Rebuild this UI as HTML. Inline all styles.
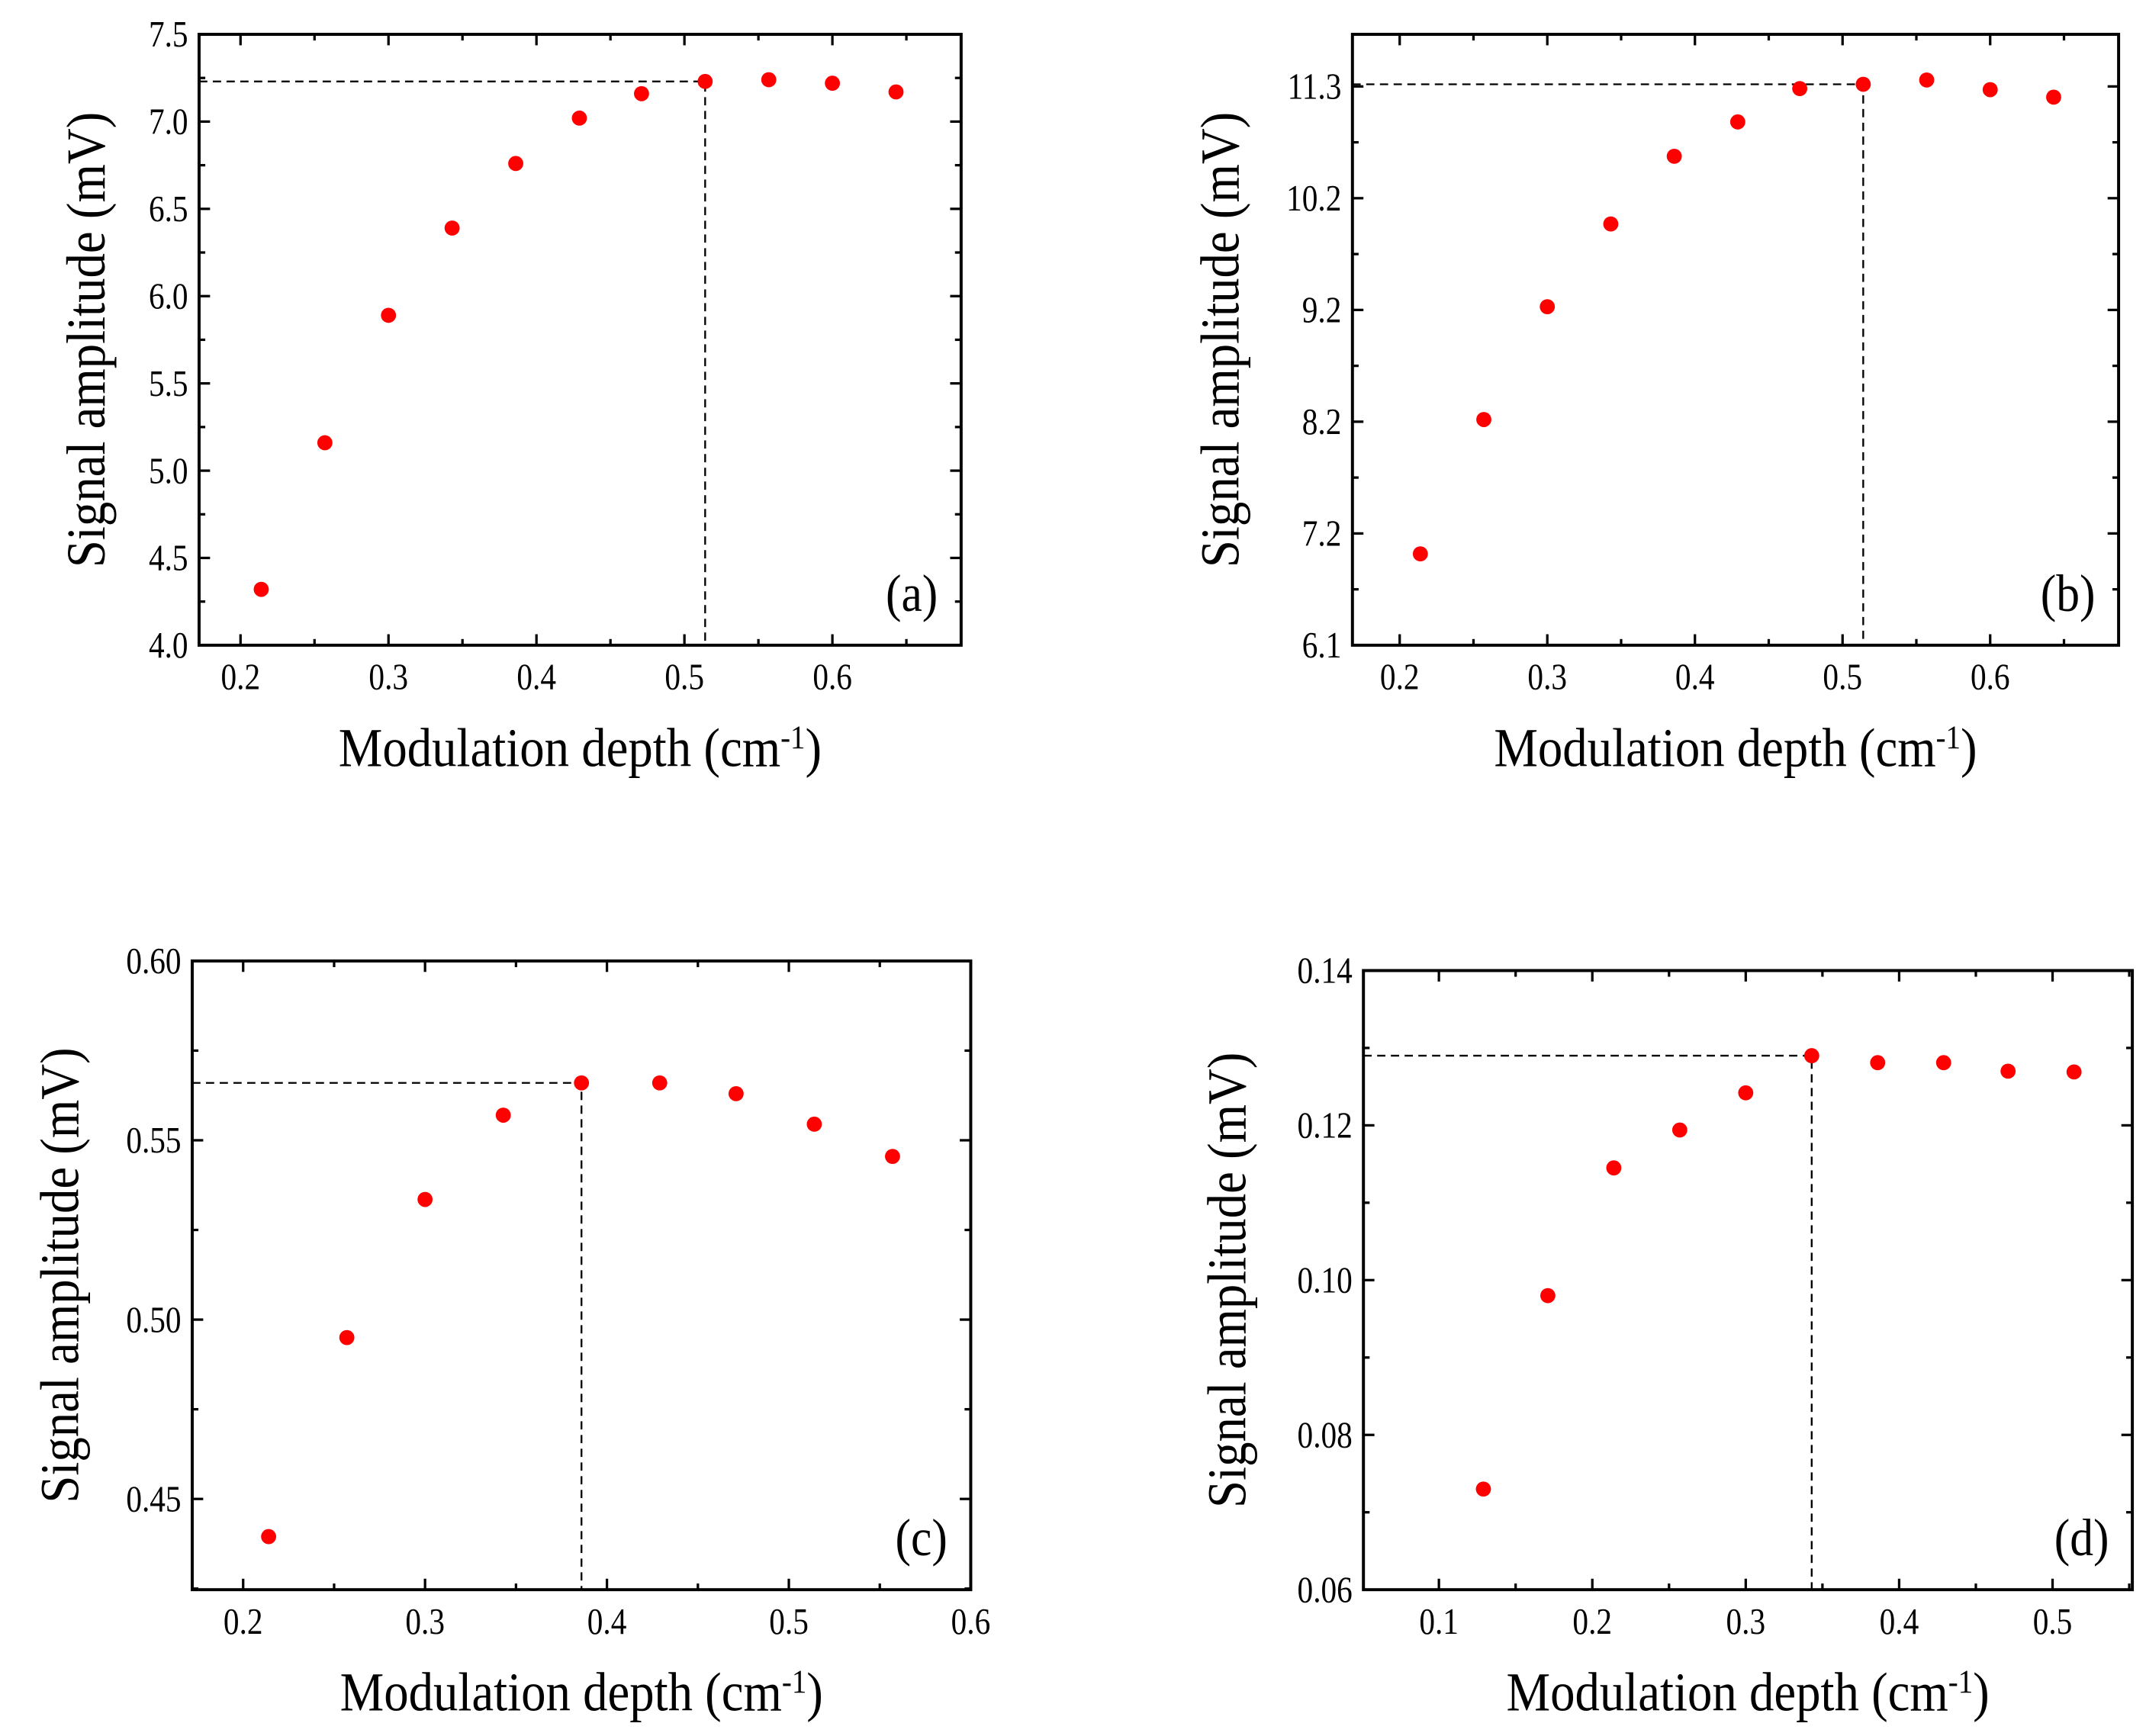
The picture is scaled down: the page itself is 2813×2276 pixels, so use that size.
<!DOCTYPE html>
<html><head><meta charset="utf-8"><style>
html,body{margin:0;padding:0;background:#fff}
svg{display:block}
text{font-family:"Liberation Serif",serif;fill:#000}
</style></head><body>
<svg id="fig" xmlns="http://www.w3.org/2000/svg" width="2813" height="2276" viewBox="0 0 2813 2276">
<rect width="2813" height="2276" fill="#fff"/>
<g id="root" transform="scale(1.7998)"></g>
</svg>
<script>
// Panel (a)
const xA = [0.214,0.257,0.300,0.343,0.386,0.429,0.471,0.514,0.557,0.600,0.643];
const yA = [4.32,5.16,5.89,6.39,6.76,7.02,7.16,7.23,7.24,7.22,7.17];
const yTicksA = [4.0,4.5,5.0,5.5,6.0,6.5,7.0,7.5];
const yTickLabelsA = ["4.0","4.5","5.0","5.5","6.0","6.5","7.0","7.5"];
// Panel (b)
const xB = [0.214,0.257,0.300,0.343,0.386,0.429,0.471,0.514,0.557,0.600,0.643];
const yB = [6.95,8.2,9.25,10.02,10.65,10.97,11.28,11.32,11.36,11.27,11.2];
const yTicksB = [6.1,7.14,8.18,9.22,10.26,11.3];
const yTickLabelsB = ["6.1","7.2","8.2","9.2","10.2","11.3"];
// Panel (c)
const xC = [0.214,0.257,0.300,0.343,0.386,0.429,0.471,0.514,0.557];
const yC = [0.4395,0.495,0.5335,0.557,0.566,0.566,0.563,0.5545,0.5455];
const yTicksC = [0.45,0.50,0.55,0.60];
const yTickLabelsC = ["0.45","0.50","0.55","0.60"];
// Panel (d)
const xD = [0.129,0.171,0.214,0.257,0.300,0.343,0.386,0.429,0.471,0.514];
const yD = [0.073,0.098,0.1145,0.1194,0.1242,0.129,0.1281,0.1281,0.127,0.1269];
const yTicksD = [0.06,0.08,0.10,0.12,0.14];
const yTickLabelsD = ["0.06","0.08","0.10","0.12","0.14"];
const xTicksABC = [0.2,0.3,0.4,0.5,0.6];
const xTickLabelsABC = ["0.2","0.3","0.4","0.5","0.6"];
const xTicksD = [0.1,0.2,0.3,0.4,0.5];
const xTickLabelsD = ["0.1","0.2","0.3","0.4","0.5"];
const peaks = {a:[0.514,7.23], b:[0.514,11.32], c:[0.386,0.566], d:[0.343,0.129]};

const NS="http://www.w3.org/2000/svg";
const root=document.getElementById('root');
function mk(tag,attrs,parent){const e=document.createElementNS(NS,tag);for(const k in attrs)e.setAttribute(k,attrs[k]);parent.appendChild(e);return e;}
function txt(parent,x,y,s,size,anchor,sx,rot){
  const t=mk('text',{x:0,y:0,'text-anchor':anchor,'font-size':size,transform:`translate(${x},${y})${rot?' rotate(-90)':''} scale(${sx},1)`},parent);
  t.innerHTML=s;
  return t;
}

function panel(id,box,xr,yr,xs,ys,xt,xtl,yt,ytl,peak,letter,ytOff){
  const [L,T,R,B]=box;
  const g=mk('g',{},root);
  
  
  const X=v=>L+(v-xr[0])/(xr[1]-xr[0])*(R-L);
  const Y=v=>B-(v-yr[0])/(yr[1]-yr[0])*(B-T);
  const dl=mk('path',{d:`M${L},${Y(peak[1])}H${X(peak[0])}V${B}`,fill:'none',stroke:'#000','stroke-width':1.3,'stroke-dasharray':'6,4'},g);
  
  
  const tw=1.8;
  for(let i=0;i<xt.length;i++){
    const x=X(xt[i]);
    mk('line',{x1:x,y1:B,x2:x,y2:B-8,stroke:'#000','stroke-width':tw},g);
    mk('line',{x1:x,y1:T,x2:x,y2:T+8,stroke:'#000','stroke-width':tw},g);
    const t=txt(g,x,B+32,xtl[i],27,'middle',0.85,false);
    
    
    const step=xt[1]-xt[0];
    for(const m of [xt[i]-step/2, xt[i]+step/2]){
      if(m>xr[0]&&m<xr[1]&&(i==0||m>xt[i])){
        const xm=X(m);
        mk('line',{x1:xm,y1:B,x2:xm,y2:B-4.5,stroke:'#000','stroke-width':tw},g);
        mk('line',{x1:xm,y1:T,x2:xm,y2:T+4.5,stroke:'#000','stroke-width':tw},g);
      }
    }
  }
  for(let i=0;i<yt.length;i++){
    const y=Y(yt[i]);
    mk('line',{x1:L,y1:y,x2:L+8,y2:y,stroke:'#000','stroke-width':tw},g);
    mk('line',{x1:R,y1:y,x2:R-8,y2:y,stroke:'#000','stroke-width':tw},g);
    const t=txt(g,L-8,y+9,ytl[i],27,'end',0.85,false);
    
    
    const step=yt[1]-yt[0];
    for(const m of [yt[i]-step/2, yt[i]+step/2]){
      if(m>yr[0]&&m<yr[1]&&(i==0||m>yt[i])){
        const ym=Y(m);
        mk('line',{x1:L,y1:ym,x2:L+4.5,y2:ym,stroke:'#000','stroke-width':tw},g);
        mk('line',{x1:R,y1:ym,x2:R-4.5,y2:ym,stroke:'#000','stroke-width':tw},g);
      }
    }
  }
  for(let i=0;i<xs.length;i++){
    const c=mk('circle',{cx:X(xs[i]),cy:Y(ys[i]),r:5.5,fill:'#f00'},g);
    
    
  }
  const fr=mk('rect',{x:L,y:T,width:R-L,height:B-T,fill:'none',stroke:'#000','stroke-width':2.2},g);
  
  
  const lt=txt(g,R-17,B-25,'('+letter+')',38,'end',0.9,false);
  
  
  const xtT=txt(g,(L+R)/2,B+88,'Modulation depth (cm<tspan dy="-13" font-size="24">-1</tspan><tspan dy="13">)</tspan>',40,'middle',0.9,false);
  
  
  const ytT=txt(g,L-ytOff,(T+B)/2,'Signal amplitude (mV)',40,'middle',0.9,true);
  
  
}
panel('a',[145,25,700,470],[0.172,0.687],[4.0,7.5],xA,yA,xTicksABC,xTickLabelsABC,yTicksA,yTickLabelsA,peaks.a,'a',69);
panel('b',[985,25,1543,470],[0.168,0.687],[6.1,11.785],xB,yB,xTicksABC,xTickLabelsABC,yTicksB,yTickLabelsB,peaks.b,'b',83);
panel('c',[140,700,707,1158],[0.172,0.6],[0.4247,0.60],xC,yC,xTicksABC,xTickLabelsABC,yTicksC,yTickLabelsC,peaks.c,'c',83);
panel('d',[993,707,1553,1158],[0.0508,0.552],[0.06,0.14],xD,yD,xTicksD,xTickLabelsD,yTicksD,yTickLabelsD,peaks.d,'d',86);
</script>
</body></html>
